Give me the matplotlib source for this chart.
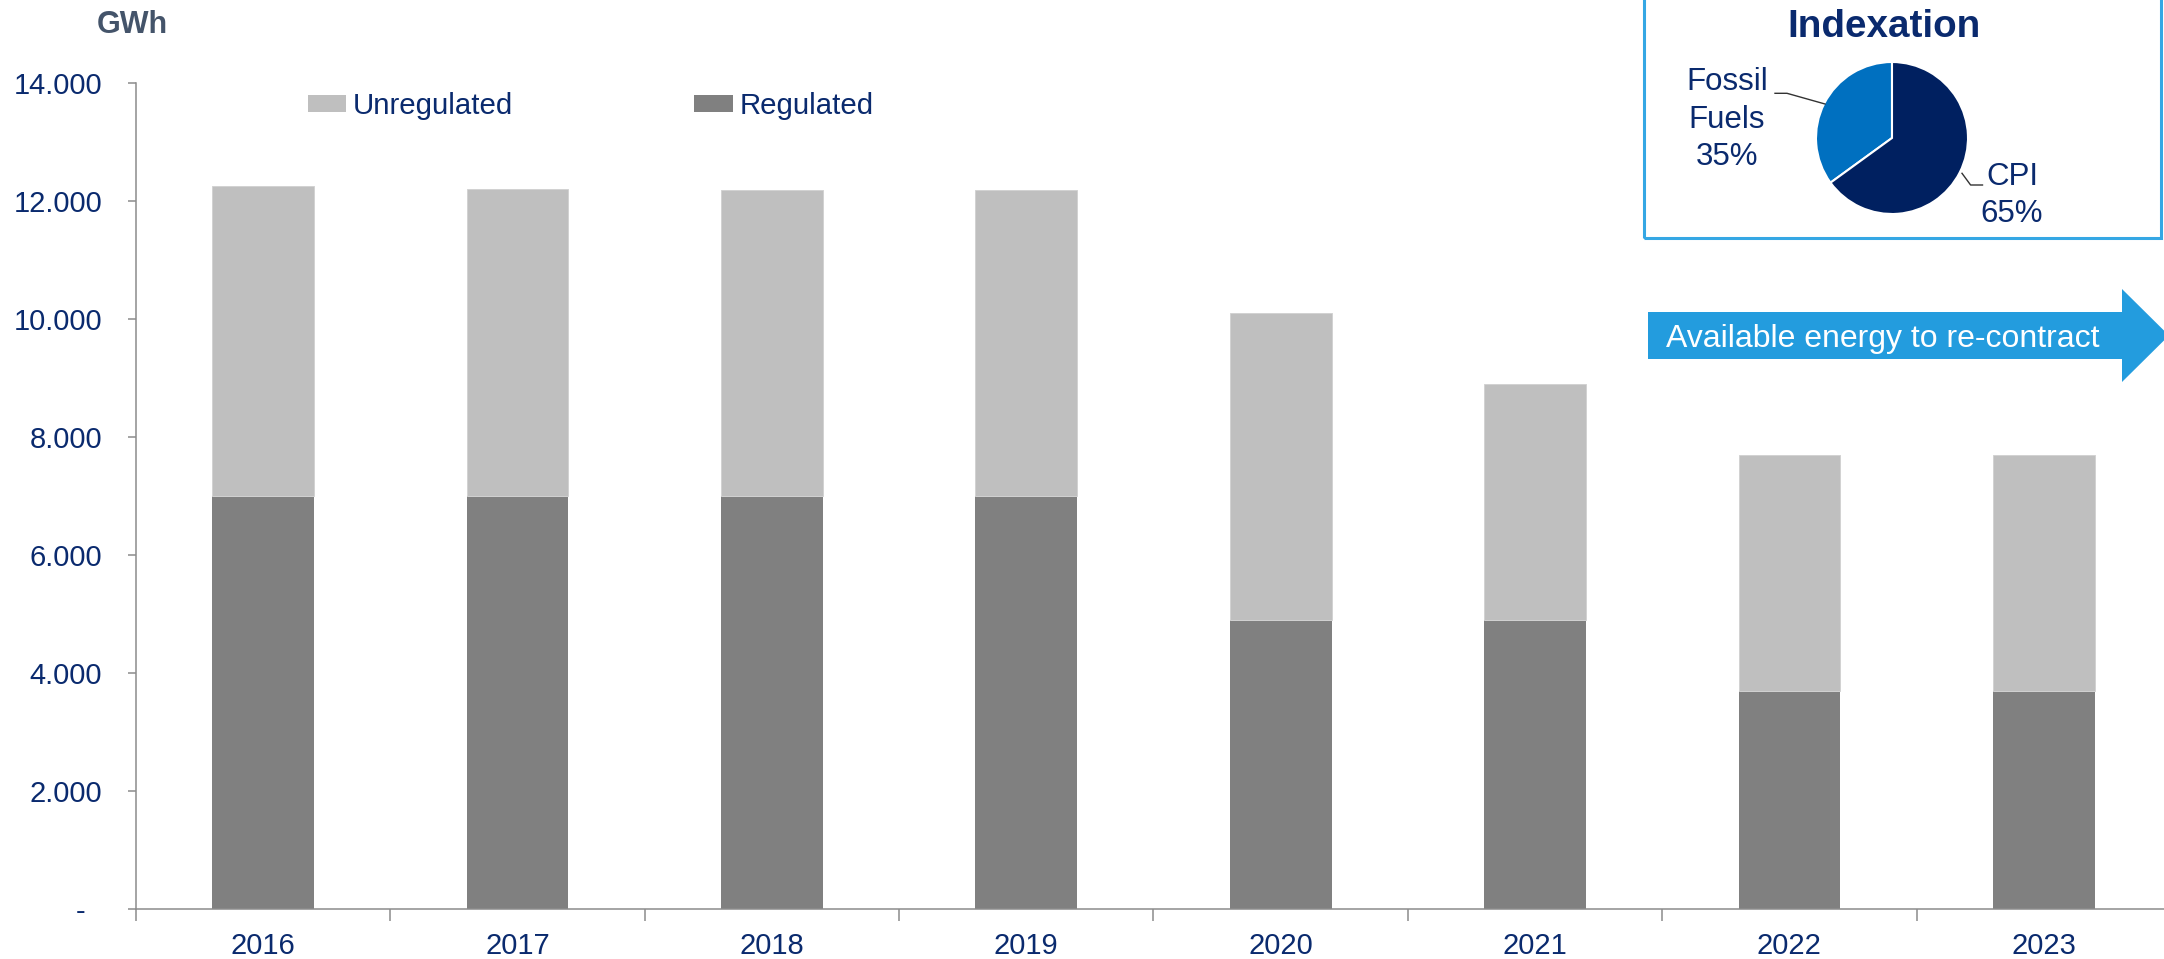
import matplotlib
matplotlib.use('Agg')
import matplotlib.pyplot as plt
from matplotlib.patches import Rectangle, Polygon, Patch
from matplotlib.lines import Line2D
import numpy as np

# ---------------- data ----------------
years = ['2016', '2017', '2018', '2019', '2020', '2021', '2022', '2023']
regulated = [7000, 7000, 7000, 7000, 4900, 4900, 3700, 3700]
unregulated = [5250, 5200, 5180, 5180, 5200, 4000, 4000, 4000]
y_ticks = [0, 2000, 4000, 6000, 8000, 10000, 12000, 14000]
pie_names = [['Fossil', 'Fuels'], ['CPI']]
pie_shares = [35, 65]

# ---------------- styling ----------------
W, H = 2164, 959
NAVY = '#0A2A6E'
plt.rcParams['font.family'] = ['Liberation Sans', 'DejaVu Sans']

fig = plt.figure(figsize=(W / 100, H / 100), dpi=100)


def fx(x):
    return x / W


def fy(y):
    return 1 - y / H


# ---------------- main bar chart ----------------
ax = fig.add_axes([fx(136), fy(909), 2035 / W, 826 / H])
xpos = np.arange(len(years))
ax.bar(xpos, regulated, width=0.4, color='#808080', zorder=2)
ax.bar(xpos, unregulated, bottom=regulated, width=0.4, facecolor='#BFBFBF',
       edgecolor='#D2D2D2', linewidth=0.7, zorder=2)
ax.set_xlim(-0.5, len(years) - 0.5)
ax.set_ylim(0, 14000)

for s in ['top', 'right']:
    ax.spines[s].set_visible(False)
for s in ['left', 'bottom']:
    ax.spines[s].set_color('#8C8C8C')
    ax.spines[s].set_linewidth(1.1)

ax.set_yticks(y_ticks)
ax.set_yticklabels(['-  ' if v == 0 else f'{v:,}'.replace(',', '.') for v in y_ticks])
ax.tick_params(axis='y', length=5.8, width=1.1, color='#8C8C8C', pad=18.5,
               labelsize=21, labelcolor=NAVY)

ax.set_xticks(xpos)
ax.set_xticklabels(years)
ax.set_xticks(np.arange(-0.5, len(years), 1), minor=True)
ax.tick_params(axis='x', which='major', length=0, pad=16.5, labelsize=21, labelcolor=NAVY)
ax.tick_params(axis='x', which='minor', length=8.6, width=1.1, color='#8C8C8C')

# legend
handles = [Patch(facecolor='#BFBFBF'), Patch(facecolor='#808080')]
fig.legend(handles, ['Unregulated', 'Regulated'], loc='center left',
           bbox_to_anchor=(fx(307.7), fy(106)), bbox_transform=fig.transFigure,
           ncol=2, frameon=False, borderpad=0, borderaxespad=0,
           handlelength=1.3, handleheight=0.55, handletextpad=0.24,
           columnspacing=6.15, fontsize=21.2, labelcolor=NAVY)

# unit label
fig.text(fx(132), fy(33), 'GWh', ha='center', va='baseline', fontsize=22,
         fontweight='bold', color='#44546A')

# ---------------- arrow ----------------
arrow_px = [(1648, 312), (2122, 312), (2122, 289), (2169, 335.5),
            (2122, 382), (2122, 359), (1648, 359)]
fig.add_artist(Polygon([(fx(a), fy(b)) for a, b in arrow_px], closed=True,
                       transform=fig.transFigure, facecolor='#239CDE',
                       edgecolor='none'))
fig.text(fx(1666), fy(346.5), 'Available energy to re-contract', ha='left',
         va='baseline', fontsize=23, color='white')

# ---------------- indexation box ----------------
fig.add_artist(Rectangle((fx(1644), fy(238)), (2161 - 1644) / W, 260 / H,
                         transform=fig.transFigure, facecolor='none',
                         edgecolor='#35A7E4', linewidth=2.2))
fig.text(fx(1884), fy(37), 'Indexation', ha='center', va='baseline',
         fontsize=27.8, fontweight='bold', color=NAVY)

r = 76
ax2 = fig.add_axes([fx(1892 - r), fy(138 + r), 2 * r / W, 2 * r / H])
ax2.pie(pie_shares, colors=['#0070C0', '#002060'], startangle=90,
        counterclock=True, wedgeprops=dict(edgecolor='white', linewidth=1.5))
ax2.set_xlim(-1, 1)
ax2.set_ylim(-1, 1)
ax2.set_aspect('equal')
ax2.axis('off')

# pie labels
fossil_lines = pie_names[0] + [f'{pie_shares[0]}%']
for txt, base in zip(fossil_lines, [90, 127.5, 165]):
    fig.text(fx(1727), fy(base), txt, ha='center', va='baseline',
             fontsize=22.5, color=NAVY)
cpi_lines = pie_names[1] + [f'{pie_shares[1]}%']
for txt, base in zip(cpi_lines, [185, 222]):
    fig.text(fx(2012), fy(base), txt, ha='center', va='baseline',
             fontsize=22.5, color=NAVY)

# leader lines
for pts in ([(1775, 93.3), (1787, 93.3), (1825, 104)],
            [(1962, 173.3), (1970.6, 185), (1982.5, 185)]):
    fig.add_artist(Line2D([fx(p[0]) for p in pts], [fy(p[1]) for p in pts],
                          transform=fig.transFigure, color='#333333', lw=1.0))

fig.savefig('out.png', dpi=100)
